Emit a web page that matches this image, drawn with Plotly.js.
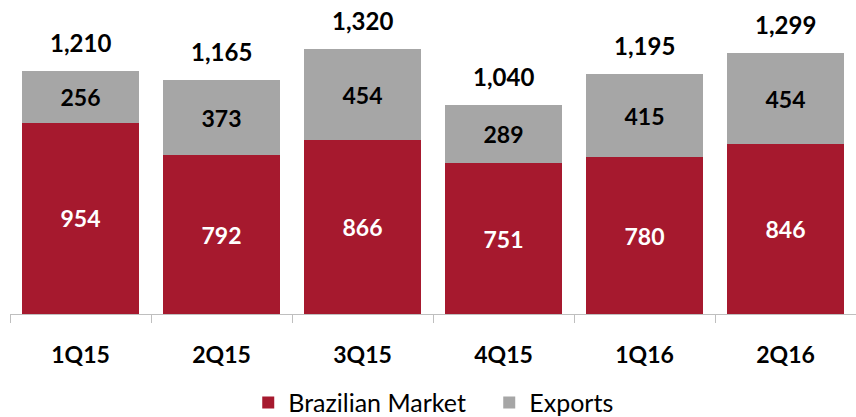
<!DOCTYPE html>
<html>
<head>
<meta charset="utf-8">
<script src="https://cdn.plot.ly/plotly-3.0.1.min.js"></script>
<style>html,body{margin:0;padding:0;background:#fff;}#chart{width:856px;height:417px;}</style>
</head>
<body>
<div id="chart"></div>
<script>
const categories = ["1Q15", "2Q15", "3Q15", "4Q15", "1Q16", "2Q16"];
const brazilianMarket = [954, 792, 866, 751, 780, 846];
const exportsVals = [256, 373, 454, 289, 415, 454];
const totals = [1210, 1165, 1320, 1040, 1195, 1299];

const FONT = "Lato, 'Open Sans', sans-serif";
const RED = "#A6192E";
const GRAY = "#A6A6A6";

const traces = [
  {
    type: "bar", name: "Brazilian Market", x: categories, y: brazilianMarket,
    marker: {color: RED},
    text: brazilianMarket.map(v => v.toLocaleString("en-US")),
    textposition: "inside", insidetextanchor: "middle",
    textfont: {family: FONT, size: 23, color: "#ffffff", weight: "bold"},
    hoverinfo: "skip"
  },
  {
    type: "bar", name: "Exports", x: categories, y: exportsVals,
    marker: {color: GRAY},
    text: exportsVals.map(v => v.toLocaleString("en-US")),
    textposition: "inside", insidetextanchor: "middle",
    textfont: {family: FONT, size: 23, color: "#000000", weight: "bold"},
    hoverinfo: "skip"
  }
];

const annotations = categories.map((c, i) => ({
  x: c, y: totals[i], xref: "x", yref: "y",
  text: totals[i].toLocaleString("en-US"),
  showarrow: false, yanchor: "bottom", yshift: 12,
  font: {family: FONT, size: 24, color: "#000000", weight: "bold"}
}));

const layout = {
  width: 856, height: 417,
  margin: {l: 10, r: 0, t: 13, b: 103, autoexpand: false},
  barmode: "stack", bargap: 0.177,
  paper_bgcolor: "#ffffff", plot_bgcolor: "#ffffff",
  showlegend: true,
  legend: {
    orientation: "h", xref: "container", yref: "container",
    x: 0.29, xanchor: "left", y: 0.034, yanchor: "middle",
    font: {family: FONT, size: 25, color: "#000000"},
    traceorder: "normal", itemwidth: 30,
    entrywidth: 196, entrywidthmode: "pixels"
  },
  xaxis: {
    type: "category", showgrid: false, zeroline: false,
    showline: true, linecolor: "#BFBFBF", linewidth: 1,
    ticks: "outside", tickson: "boundaries", ticklen: 8, tickcolor: "#BFBFBF",
    ticklabelstandoff: 20,
    tickfont: {family: FONT, size: 23, color: "#000000", weight: "bold"}
  },
  yaxis: {
    range: [0, 1500], visible: false, showgrid: false, zeroline: false
  },
  annotations: annotations
};

Plotly.newPlot("chart", traces, layout, {displayModeBar: false, staticPlot: true});
</script>
</body>
</html>
